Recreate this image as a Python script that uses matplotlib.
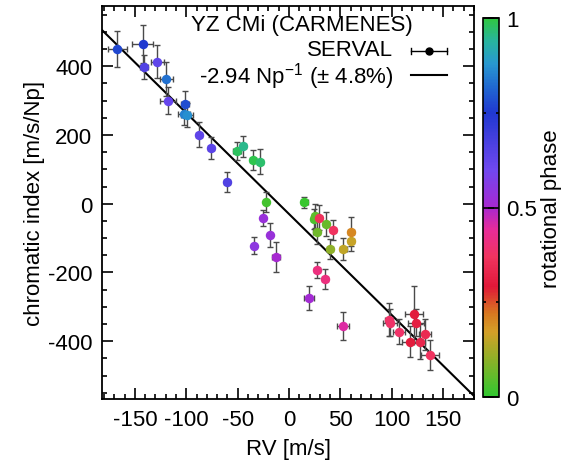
#!/usr/bin/env python3

import numpy as np
import matplotlib
matplotlib.use('Agg')
import matplotlib.pyplot as plt
from matplotlib.colors import LinearSegmentedColormap, Normalize
from matplotlib.lines import Line2D
from matplotlib.ticker import MultipleLocator

plt.rcParams['font.family'] = ['Liberation Sans', 'DejaVu Sans']
plt.rcParams['axes.unicode_minus'] = False
plt.rcParams['mathtext.fontset'] = 'custom'
plt.rcParams['mathtext.rm'] = 'Liberation Sans'

# RV [m/s], chromatic index [m/s/Np], errors and rotational phase
rv = [-167, -142.5, -141, -128, -119.5, -118, -101, -102, -99, -87.6,
      -76, -60.7, -51, -44.5, -35, -28, -22.7, -25.6, -18.8, -34,
      -13, 15, 24, 25, 29.4, 26.8, 35.6, 42.5, 40, 53,
      60, 60.4, 27, 35, 19.5, 52.8, 97.4, 98.3, 107, 121.7,
      123.7, 118, 127, 132.4, 137]
rv_err = [9.6, 10.5, 4, 6.5, 6.5, 8, 4, 6, 6, 3,
          3, 3, 4, 3, 3, 3, 2, 2, 2, 2,
          4, 3, 3, 3, 3, 3, 3, 3, 3, 3,
          3, 3, 3, 3, 5, 6, 4, 6.5, 6, 9,
          8, 8, 5, 6, 9]
crx = [451, 464, 398, 413, 362, 300, 290, 262, 259, 201,
       162, 63, 153, 167, 126, 122, 6, -41, -90, -122,
       -155, 4, -44, -36, -41, -81, -58, -76, -131, -133,
       -108, -81, -193, -218, -274, -355, -337, -346, -372, -321,
       -346, -401, -401, -380, -441]
crx_err = [52, 55, 34, 48, 50, 39, 38, 32, 35, 36,
           33, 30, 27, 31, 29, 36, 29, 24, 35, 24,
           44, 16, 30, 35, 36, 35, 35, 29, 29, 32,
           30, 41, 22, 29, 35, 41, 48, 40, 36, 83,
           40, 44, 50, 45, 44]
phase = [0.77, 0.75, 0.66, 0.63, 0.83, 0.62, 0.78, 0.85, 0.87, 0.63,
         0.64, 0.66, 0.98, 0.95, 0.99, 0.97, 0.02, 0.53, 0.53, 0.55,
         0.50, 0.01, 0.03, 0.05, 0.36, 0.07, 0.06, 0.37, 0.10, 0.15,
         0.16, 0.20, 0.41, 0.41, 0.51, 0.45, 0.38, 0.38, 0.38, 0.30,
         0.31, 0.30, 0.33, 0.34, 0.37]

slope = -2.94
offset = -30

# cyclic palette like the gnuplot one
cmap = LinearSegmentedColormap.from_list('phase', [
    (0.00, '#30c830'), (0.10, '#90b028'), (0.17, '#d4a028'),
    (0.22, '#d87820'), (0.29, '#e01838'), (0.37, '#f03460'),
    (0.44, '#e82c98'), (0.50, '#a828d0'), (0.60, '#7048f0'),
    (0.75, '#2038d0'), (0.82, '#2068d0'), (0.88, '#2898d0'),
    (0.94, '#28b4a0'), (1.00, '#30c840')])
norm = Normalize(0, 1)

W, H = 569, 477
fig = plt.figure(figsize=(W / 100, H / 100), dpi=100)
ax = fig.add_axes([102 / W, 1 - 400 / H, 372 / W, 393 / H])

xlim = (-182, 180)
ax.plot(xlim, [slope * xlim[0] + offset, slope * xlim[1] + offset],
        color='black', lw=1.5, zorder=1)

for i in range(len(rv)):
    ax.errorbar(rv[i], crx[i], xerr=rv_err[i], yerr=crx_err[i], fmt='o',
                ms=6.8, color=cmap(norm(phase[i])), mec='none',
                ecolor='#4a4a4a', elinewidth=1, capsize=2.5, capthick=1,
                zorder=2)

ax.set_xlim(*xlim)
ax.set_ylim(-568, 575)
ax.xaxis.set_major_locator(MultipleLocator(50))
ax.xaxis.set_minor_locator(MultipleLocator(10))
ax.yaxis.set_major_locator(MultipleLocator(200))
ax.yaxis.set_minor_locator(MultipleLocator(50))
ax.tick_params(which='both', direction='in', top=True, right=True,
               labelsize=16, width=1.2)
ax.tick_params(which='major', length=8, pad=7)
ax.tick_params(which='minor', length=3.5)
for s in ax.spines.values():
    s.set_linewidth(1.3)

ax.set_xlabel('RV [m/s]', fontsize=16, labelpad=6)
ax.set_ylabel('chromatic index [m/s/Np]', fontsize=16, labelpad=2)

# key
fig.text(302 / W, 1 - 26 / H, 'YZ CMi (CARMENES)', fontsize=16,
         ha='center', va='center')
fig.text(393 / W, 1 - 51 / H, 'SERVAL', fontsize=16, ha='right', va='center')
fig.text(394 / W, 1 - 77 / H, '-2.94 Np$^{\\mathregular{-1}}$ (\u00b1 4.8%)',
         fontsize=16, ha='right', va='center')
y1 = 1 - 51.5 / H
fig.add_artist(Line2D([411 / W, 447 / W], [y1, y1], color='black', lw=1))
for xc in (411, 447):
    fig.add_artist(Line2D([xc / W, xc / W], [y1 - 3 / H, y1 + 3 / H],
                          color='black', lw=1))
fig.add_artist(Line2D([429 / W], [y1], marker='o', ms=5, color='black'))
y2 = 1 - 76 / H
fig.add_artist(Line2D([411 / W, 447 / W], [y2, y2], color='black', lw=1.5))

# colorbar
cax = fig.add_axes([483 / W, 1 - 398 / H, 16 / W, 379 / H])
sm = plt.cm.ScalarMappable(norm=norm, cmap=cmap)
cb = fig.colorbar(sm, cax=cax)
cb.set_ticks([0, 0.5, 1])
cb.set_ticklabels(['0', '0.5', '1'])
cax.yaxis.set_minor_locator(MultipleLocator(0.25))
cax.tick_params(which='both', direction='in', left=True, right=True,
                labelsize=16, width=1.2, color='black')
cax.tick_params(which='major', length=8, pad=5)
cax.tick_params(which='minor', length=2.5)
cb.outline.set_linewidth(1.2)
cb.set_label('rotational phase', fontsize=16, labelpad=3)

plt.savefig('out.png', dpi=100)
